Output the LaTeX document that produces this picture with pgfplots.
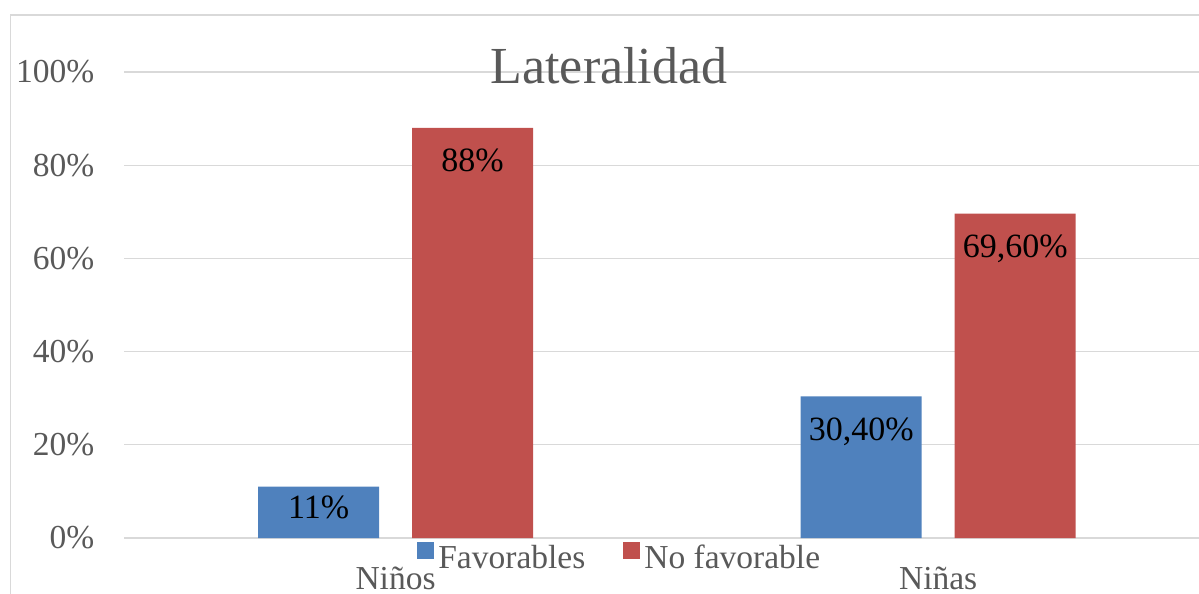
\documentclass[border=0pt]{standalone}
\usepackage{pgfplots}
\pgfplotsset{compat=1.18}
\usepackage{pgfplotstable}
\usepackage{fontspec}
\setmainfont{Liberation Serif}

\definecolor{favblue}{HTML}{4F81BD}
\definecolor{nofavred}{HTML}{C0504D}
\definecolor{labelgray}{HTML}{595959}
\definecolor{gridgray}{HTML}{D9D9D9}

% x: 0 = Niños, 1 = Niñas
\pgfplotstableread{
x y lab
0 11 11\%
1 30.4 30,40\%
}\favorables
\pgfplotstableread{
x y lab
0 88 88\%
1 69.6 69,60\%
}\nofavorable

\begin{document}
\begin{tikzpicture}
\path[use as bounding box] (0,0) rectangle (599.5pt,297pt);
\clip (0,0) rectangle (599.5pt,297pt);
% chart area frame
\draw[gridgray, line width=0.7pt] (5.25pt,-2pt) -- (5.25pt,289.5pt) -- (610pt,289.5pt);
\begin{axis}[
  at={(62.125pt,28pt)}, anchor=south west,
  scale only axis, width=542.625pt, height=233pt,
  xmin=-0.5, xmax=1.5, ymin=0, ymax=100,
  enlargelimits=false,
  clip=false,
  ybar=16.5pt, bar width=60.5pt,
  axis line style={draw=none},
  tick style={draw=none},
  ymajorgrids, grid style={color=gridgray, line width=0.6pt},
  ytick={0,20,40,60,80,100},
  yticklabels={0\%,20\%,40\%,60\%,80\%,100\%},
  xtick={0,1},
  xticklabels={Niños,Niñas},
  ticklabel style={font=\fontsize{16.75}{20}\selectfont, text=labelgray},
  yticklabel style={anchor=east, xshift=-11.5pt},
  xticklabel style={anchor=base, yshift=-21.5pt},
  point meta=explicit symbolic,
  visualization depends on={y \as \rawy},
  nodes near coords={\pgfplotspointmeta},
  nodes near coords style={font=\fontsize{17}{20}\selectfont, text=black, anchor=base,
    yshift={(\rawy<20)?-16pt:-22pt}},
  legend columns=2,
  legend style={at={(axis description cs:0.4575,-0.0429)}, anchor=center,
    draw=none, fill=none, font=\fontsize{16.75}{20}\selectfont, text=labelgray,
    /tikz/every even column/.append style={column sep=17pt}},
  legend image code/.code={\fill[#1] (-4.5pt,-0.5pt) rectangle (4pt,8pt);},
]
\addplot[fill=favblue, draw=none] table[x=x, y=y, meta=lab] {\favorables};
\addplot[fill=nofavred, draw=none] table[x=x, y=y, meta=lab] {\nofavorable};
\legend{Favorables, No favorable}
\end{axis}
\node[anchor=base, font=\fontsize{26}{30}\selectfont, text=labelgray] at (304.5pt,255pt) {Lateralidad};
\end{tikzpicture}
\end{document}
